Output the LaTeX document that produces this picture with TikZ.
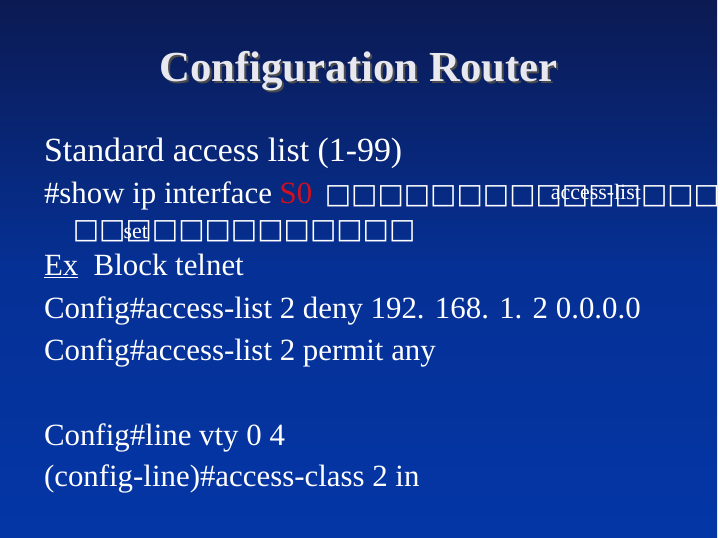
\documentclass[tikz,border=0pt]{standalone}
\usepackage{fontspec}
\setmainfont{Liberation Serif}
\newfontfamily\boxfont{DejaVu Sans}
\definecolor{bgtop}{HTML}{0B1A52}
\definecolor{bgbot}{HTML}{0436A6}
\definecolor{sred}{HTML}{D01020}
\definecolor{ttl}{HTML}{E8E8F0}
\begin{document}
\begin{tikzpicture}[x=1pt,y=-1pt,
  line/.style={anchor=base west,inner sep=0pt,text=white,font=\fontsize{31}{34}\selectfont},
  boxes/.style={anchor=base west,inner sep=0pt,text=white,font=\boxfont\fontsize{28}{28}\selectfont},
  small/.style={anchor=base west,inner sep=0pt,text=white,font=\fontsize{22}{22}\selectfont}]
\shade[top color=bgtop,bottom color=bgbot,middle color=bgbot!80!bgtop] (0,0) rectangle (720,540);
\node[anchor=base,inner sep=0pt,text=black!70,font=\bfseries\fontsize{43}{46}\selectfont] (ts) at (362,84) {Configuration Router};
\node[anchor=base,inner sep=0pt,text=ttl,font=\bfseries\fontsize{43}{46}\selectfont] (t) at (360,82) {Configuration Router};
\node[anchor=base west,inner sep=0pt,text=white,font=\fontsize{34}{38}\selectfont] (l1) at (44,162) {Standard access list (1-99)};
\node[line] (l2) at (44,204) {\#show ip interface \textcolor{sred}{S0}};
\node[boxes] (b2) at (326,204) {□□□□□□□□□□□□□□□};
\node[small] (al) at (553,200) {access-list};
\node[boxes] (b3) at (73,240) {□□□□□□□□□□□□□};
\node[small] (st) at (124,240) {set};
\node[line] (l4) at (44,277) {\underline{Ex}\ \ Block telnet};
\node[line] (l5) at (44,320) {Config\#access-list 2 deny 192. 168. 1. 2 0.0.0.0};
\node[line] (l6) at (44,362) {Config\#access-list 2 permit any};
\node[line] (l7) at (44,447) {Config\#line vty 0 4};
\node[line] (l8) at (44,489) {(config-line)\#access-class 2 in};
\end{tikzpicture}
\end{document}
